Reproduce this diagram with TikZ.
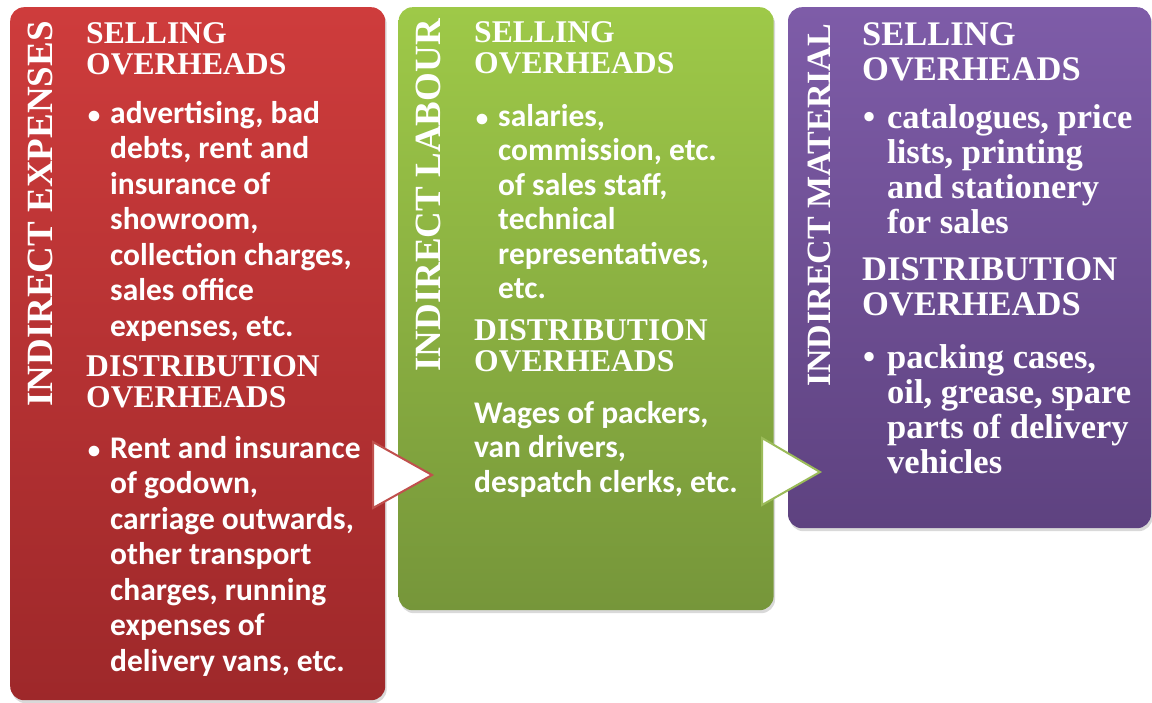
\documentclass[tikz,border=0pt]{standalone}
\usepackage{fontspec}
\setmainfont{Liberation Serif}
\newfontfamily\calibri{Carlito}
\usetikzlibrary{positioning,shadows}

\definecolor{redtop}{RGB}{206,60,60}
\definecolor{redbot}{RGB}{158,40,42}
\definecolor{greentop}{RGB}{158,201,72}
\definecolor{greenbot}{RGB}{118,150,58}
\definecolor{purptop}{RGB}{126,92,168}
\definecolor{purpbot}{RGB}{94,66,128}
\definecolor{redline}{RGB}{192,80,77}
\definecolor{greenline}{RGB}{155,187,89}

\newcommand{\dotmark}{\llap{{\fontsize{25}{25}\selectfont\textbullet}\hspace{10pt}}}
\newcommand{\serifdot}{\llap{\textbullet\hspace{12pt}}}

\begin{document}
\begin{tikzpicture}[x=1pt, y=-1pt, text=white,
  card/.style = {rounded corners=14pt, inner sep=0, shade,
    drop shadow={shadow xshift=1.5pt, shadow yshift=-3pt, opacity=0.3}},
  side/.style = {rotate=90, anchor=base west, inner sep=0, font=\bfseries\fontsize{37}{37}\selectfont},
  head/.style = {anchor=north west, inner sep=0, align=left, font=\bfseries\fontsize{31.6}{31}\selectfont},
  body/.style = {anchor=north west, inner sep=0, align=left, font=\calibri\bfseries\fontsize{31.5}{35.5}\selectfont},
  chev/.style = {fill=white, line width=2pt, line join=miter}]
\useasboundingbox (0,0) rectangle (1152,702);

% the three cards
\node[card, anchor=north west, top color=redtop, bottom color=redbot,
  minimum width=375pt, minimum height=693pt] (expenses) at (10,7) {};
\node[card, right=13pt of expenses.north east, anchor=north west, top color=greentop, bottom color=greenbot,
  minimum width=375pt, minimum height=603pt] (labour) {};
\node[card, right=14pt of labour.north east, anchor=north west, top color=purptop, bottom color=purpbot,
  minimum width=363pt, minimum height=521pt] (material) {};

% chevrons
\draw[chev, draw=redline] (373,442) -- (432,475) -- (373,508) -- cycle;
\draw[chev, draw=greenline] (762,438) -- (820,472) -- (762,505) -- cycle;

% indirect expenses
\node[side] (expside) at (52,407) {INDIRECT EXPENSES};
\node[head] (expsell) at (86,21.3) {\strut SELLING\\OVERHEADS};
\node[body] (expsellt) at (110,98) {\strut\dotmark advertising, bad\\debts, rent and\\insurance of\\showroom,\\collection charges,\\sales office\\expenses, etc.};
\node[head] (expdist) at (86,354.3) {\strut DISTRIBUTION\\OVERHEADS};
\node[body] (expdistt) at (110,433) {\strut\dotmark Rent and insurance\\of godown,\\carriage outwards,\\other transport\\charges, running\\expenses of\\delivery vans, etc.};

% indirect labour
\node[side] (labside) at (440,372) {INDIRECT LABOUR};
\node[head] (labsell) at (474,20.3) {\strut SELLING\\OVERHEADS};
\node[body, font=\calibri\bfseries\fontsize{31.5}{34.5}\selectfont] (labsellt) at (498,102) {\strut\dotmark salaries,\\commission, etc.\\of sales staff,\\technical\\representatives,\\etc.};
\node[head] (labdist) at (474,318.3) {\strut DISTRIBUTION\\OVERHEADS};
\node[body, font=\calibri\bfseries\fontsize{31.5}{34.5}\selectfont] (labdistt) at (474,399) {\strut Wages of packers,\\van drivers,\\despatch clerks, etc.};

% indirect material
\node[side, font=\bfseries\fontsize{34}{34}\selectfont] (matside) at (830,387) {INDIRECT MATERIAL};
\node[head, font=\bfseries\fontsize{34.5}{35}\selectfont] (matsell) at (862,20.5) {\strut SELLING\\OVERHEADS};
\node[body, font=\bfseries\fontsize{34.5}{35}\selectfont] (matsellt) at (887,103.5) {\strut\serifdot catalogues, price\\lists, printing\\and stationery\\for sales};
\node[head, font=\bfseries\fontsize{34.5}{35}\selectfont] (matdist) at (862,255.5) {\strut DISTRIBUTION\\OVERHEADS};
\node[body, font=\bfseries\fontsize{34.5}{35}\selectfont] (matdistt) at (887,343.5) {\strut\serifdot packing cases,\\oil, grease, spare\\parts of delivery\\vehicles};
\end{tikzpicture}
\end{document}
